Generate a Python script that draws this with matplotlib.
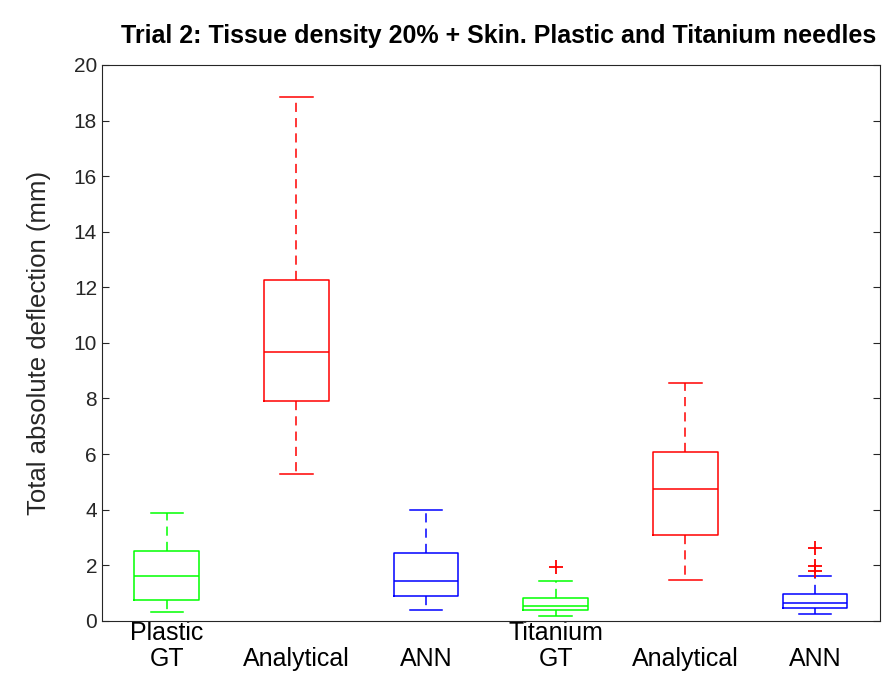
import matplotlib.pyplot as plt

plt.rcParams['font.family'] = ['Liberation Sans', 'DejaVu Sans']

labels = ["Plastic\nGT", "\nAnalytical", "\nANN", "Titanium\nGT", "\nAnalytical", "\nANN"]
colors = ["#00ff00", "#ff0000", "#0000ff", "#00ff00", "#ff0000", "#0000ff"]
whislo = [0.32, 5.30, 0.40, 0.18, 1.47, 0.24]
q1 = [0.75, 7.91, 0.88, 0.40, 3.09, 0.47]
med = [1.62, 9.68, 1.45, 0.55, 4.75, 0.65]
q3 = [2.50, 12.27, 2.43, 0.83, 6.08, 0.96]
whishi = [3.88, 18.85, 4.00, 1.44, 8.56, 1.60]
fliers = [[], [], [], [1.94], [], [2.62, 1.97, 1.80]]

stats = []
for i in range(6):
    stats.append(dict(whislo=whislo[i], q1=q1[i], med=med[i], q3=q3[i],
                      whishi=whishi[i], fliers=fliers[i]))

fig = plt.figure(figsize=(8.86, 6.77), dpi=100)
ax = fig.add_axes([0.115, 0.083, 0.878, 0.821])

for i in range(6):
    c = colors[i]
    ax.bxp([stats[i]], positions=[i + 1], widths=0.5, showfliers=True,
           boxprops=dict(color=c, lw=1.1),
           medianprops=dict(color=c, lw=1.1),
           whiskerprops=dict(color=c, lw=1.1, linestyle=(0, (6, 4))),
           capprops=dict(color=c, lw=1.1),
           capwidths=0.25,
           flierprops=dict(marker='+', markeredgecolor='r', markersize=10, mew=1.3))

ax.set_xlim(0.5, 6.5)
ax.set_ylim(0, 20)
ax.set_yticks(range(0, 21, 2))
ax.set_xticks(range(1, 7))
ax.set_xticklabels(labels, fontsize=18, linespacing=1.1)
ax.tick_params(axis='y', direction='in', right=True, labelsize=15, length=5, colors='#262626')
ax.tick_params(axis='x', length=0, pad=0, labelcolor='black')
for s in ax.spines.values():
    s.set_color('#262626')
ax.set_ylabel("Total absolute deflection (mm)", fontsize=18.5, color='#262626', labelpad=16)
ax.set_title("Trial 2: Tissue density 20% + Skin. Plastic and Titanium needles",
             fontsize=18, fontweight='bold', pad=16, x=0.51)

fig.savefig("out.png", dpi=100)
